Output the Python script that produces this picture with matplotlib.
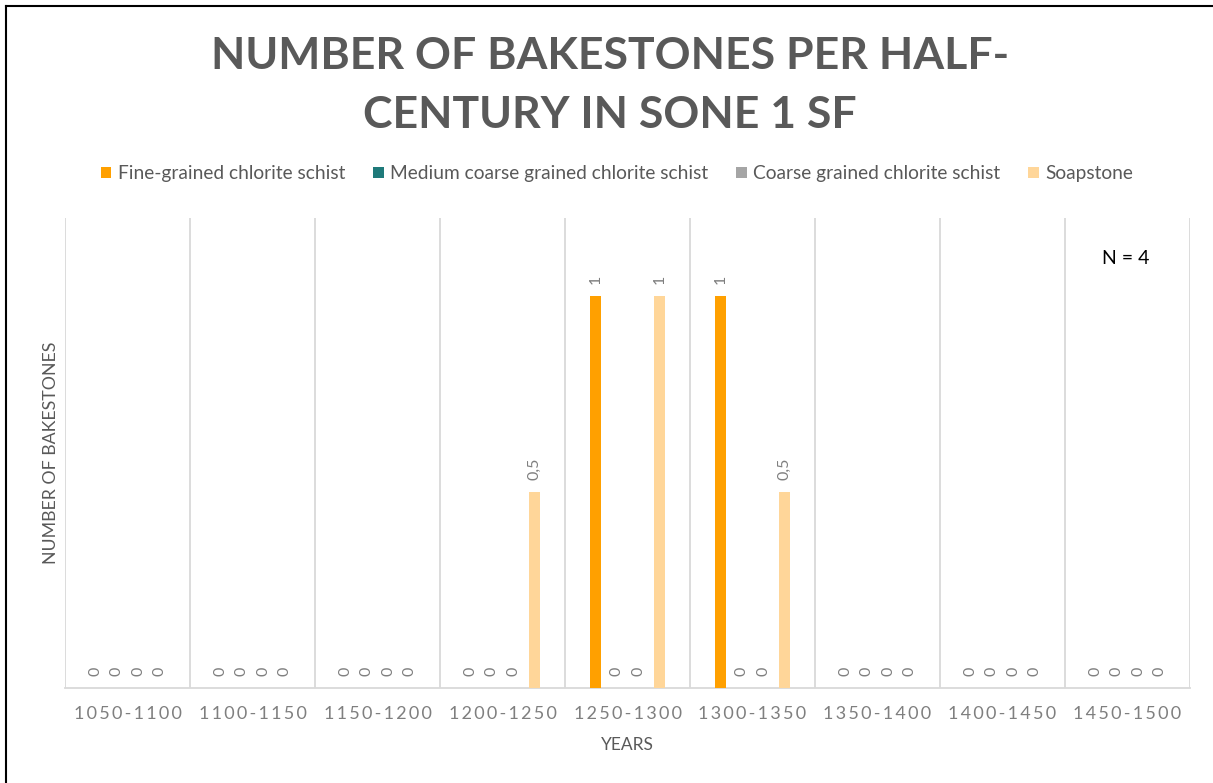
import matplotlib
matplotlib.use("Agg")
import matplotlib.pyplot as plt
from matplotlib.patches import Patch
from matplotlib.lines import Line2D
import numpy as np

# Half-century periods and bakestone counts per material
periods = ["1050-1100", "1100-1150", "1150-1200", "1200-1250", "1250-1300",
           "1300-1350", "1350-1400", "1400-1450", "1450-1500"]
series_names = ["Fine-grained chlorite schist",
                "Medium coarse grained chlorite schist",
                "Coarse grained chlorite schist",
                "Soapstone"]
fine_grained = [0, 0, 0, 0, 1, 1, 0, 0, 0]
medium_coarse = [0, 0, 0, 0, 0, 0, 0, 0, 0]
coarse = [0, 0, 0, 0, 0, 0, 0, 0, 0]
soapstone = [0, 0, 0, 0.5, 1, 0.5, 0, 0, 0]
series_values = [fine_grained, medium_coarse, coarse, soapstone]
colors = ["#FFA000", "#1F7A7A", "#A5A5A5", "#FFD699"]

TXT = "#595959"
LBL = "#7F7F7F"
GRID = "#D9D9D9"
FONT = ["Lato", "DejaVu Sans"]


def spaced(s, sep="\u2009"):
    return sep.join(s)


def fmt(v):
    return ("%g" % v).replace(".", ",")


W, H = 1213, 783
fig = plt.figure(figsize=(W / 100, H / 100), dpi=100)
fig.patch.set_facecolor("white")

ax = fig.add_axes([65 / W, 1 - 688 / H, (1190 - 65) / W, (688 - 218) / H])
x = np.arange(len(periods))
step = 0.1707
width = 0.088
for i, (name, vals, c) in enumerate(zip(series_names, series_values, colors)):
    bars = ax.bar(x + (i - 1.5) * step, vals, width, color=c, label=name, zorder=3)
    ax.bar_label(bars, labels=[fmt(v) for v in vals], padding=9, rotation=90,
                 color=LBL, fontsize=11.5, family=FONT)

ax.set_xlim(-0.5, len(periods) - 0.5)
ax.set_ylim(0, 1.2)
for b in np.arange(-0.5, len(periods), 1.0):
    ax.axvline(b, color=GRID, lw=1.3, zorder=1)
for s in ["top", "right", "left"]:
    ax.spines[s].set_visible(False)
ax.spines["bottom"].set_color(GRID)
ax.spines["bottom"].set_linewidth(1.3)
ax.set_yticks([])
ax.set_xticks(x)
ax.set_xticklabels([spaced(p) for p in periods], color=LBL, fontsize=13, family=FONT)
ax.tick_params(axis="x", length=0, pad=13)

ax.set_xlabel("YEARS", color=TXT, fontsize=12.5, family=FONT, labelpad=11)
ax.set_ylabel("NUMBER OF BAKESTONES", color=TXT, fontsize=12.8, family=FONT, labelpad=4)

fig.text(1126 / W, 1 - 258 / H, "N = 4", ha="center", va="center",
         fontsize=14, color="black", family=FONT)

fig.text(610 / W, 1 - 85.5 / H, "NUMBER OF BAKESTONES PER HALF-\nCENTURY IN SONE 1 SF",
         ha="center", va="center", fontsize=32, fontweight="bold", color=TXT,
         family=FONT, linespacing=1.55)

handles = [Patch(facecolor=c, edgecolor="none") for c in colors]
fig.legend(handles, series_names, loc="center", bbox_to_anchor=(617 / W, 1 - 174 / H),
           ncol=4, frameon=False, handlelength=0.55, handleheight=0.55,
           handletextpad=0.35, columnspacing=1.45, prop={"family": FONT, "size": 13.8},
           labelcolor=TXT)

# Outer frame along the top and left edges
fig.add_artist(Line2D([6 / W, 1], [1 - 6 / H, 1 - 6 / H], transform=fig.transFigure,
                      color="black", lw=1.5))
fig.add_artist(Line2D([6 / W, 6 / W], [0, 1 - 6 / H], transform=fig.transFigure,
                      color="black", lw=1.5))

fig.savefig("out.png", dpi=100)
